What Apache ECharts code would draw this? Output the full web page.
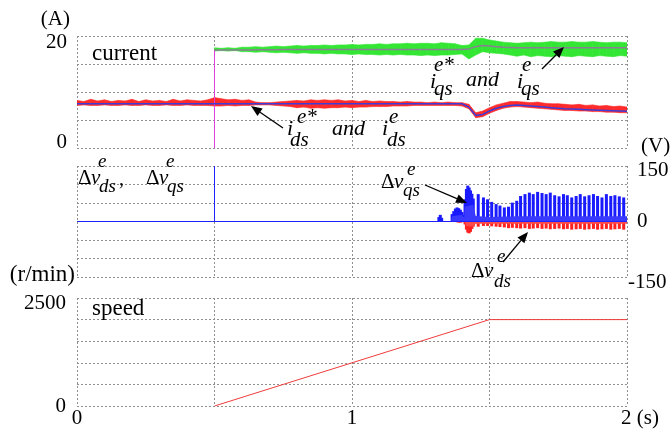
<!DOCTYPE html>
<html><head><meta charset="utf-8">
<script src="https://cdn.jsdelivr.net/npm/echarts/dist/echarts.min.js"></script>
<style>html,body{margin:0;padding:0;background:#fff}#c{width:671px;height:431px}</style>
</head><body><div id="c"></div>
<script>
// ---------- DATA ----------
// time grid for current traces (s)
const tC = [0,0.025,0.05,0.075,0.1,0.125,0.15,0.175,0.2,0.225,0.25,0.275,0.3,0.325,0.35,0.375,0.4,0.425,0.45,0.475,
 0.5,0.525,0.55,0.575,0.6,0.625,0.65,0.675,0.7,0.725,0.75,0.775,0.8,0.825,0.85,0.875,0.9,0.925,0.95,0.975,
 1.0,1.025,1.05,1.075,1.1,1.125,1.15,1.175,1.2,1.225,1.25,1.275,1.3,1.325,1.35,1.375,1.4,1.425,1.45,1.475,
 1.5,1.525,1.55,1.575,1.6,1.625,1.65,1.675,1.7,1.725,1.75,1.775,1.8,1.825,1.85,1.875,1.9,1.925,1.95,1.975,
 2.0];
// d-axis current reference and measured envelope (A)
const idsRef = [7.9,7.9,7.9,7.9,7.9,7.9,7.9,7.9,7.9,7.9,7.9,7.9,7.9,7.9,7.9,7.9,7.9,7.9,7.9,7.9,
 7.9,7.9,7.9,7.9,7.9,7.9,7.9,7.9,7.9,7.9,7.9,7.9,7.9,7.9,7.9,7.9,7.9,7.9,7.9,7.9,
 7.9,7.9,7.9,7.9,7.9,7.9,7.9,7.9,7.9,7.9,7.9,7.9,7.9,7.9,7.9,7.9,7.9,7.3,5.8,6.0,
 6.6,7.1,7.4,7.6,7.7,7.6,7.5,7.4,7.3,7.2,7.1,7.0,6.95,6.9,6.85,6.8,6.75,6.7,6.65,6.6,
 6.55];
const idsHi = [8.5,8.3,8.7,8.4,8.6,8.3,8.5,8.4,8.7,8.3,8.6,8.4,8.5,8.3,8.7,8.4,8.6,8.5,8.4,8.6,
 9.0,8.8,8.6,8.7,8.5,8.6,8.2,8.1,8.1,8.2,8.3,8.4,8.5,8.4,8.6,8.5,8.6,8.5,8.6,8.4,
 8.5,8.3,8.5,8.3,8.4,8.3,8.3,8.2,8.3,8.2,8.2,8.1,8.2,8.1,8.2,8.1,8.1,7.8,6.3,6.6,
 7.2,7.7,8.0,8.3,8.3,8.2,8.1,8.2,8.0,7.9,7.9,7.8,7.7,7.8,7.6,7.7,7.5,7.6,7.4,7.5,
 7.3];
const idsLo = [7.6,7.7,7.6,7.6,7.7,7.6,7.6,7.7,7.6,7.6,7.7,7.6,7.6,7.7,7.6,7.6,7.7,7.6,7.6,7.6,
 7.5,7.5,7.6,7.5,7.6,7.6,7.7,7.7,7.7,7.6,7.5,7.4,7.2,7.3,7.1,7.2,7.1,7.2,7.2,7.3,
 7.2,7.3,7.3,7.4,7.4,7.4,7.5,7.5,7.5,7.6,7.6,7.6,7.6,7.6,7.6,7.6,7.5,7.0,5.4,5.6,
 6.2,6.7,7.1,7.3,7.4,7.3,7.2,7.1,7.0,6.9,6.8,6.7,6.7,6.6,6.6,6.5,6.5,6.4,6.4,6.3,
 6.3];
// q-axis current (starts at 0.5 s) reference and measured envelope (A)
const iqsRef = [17.5,17.5,17.5,17.5,17.5,17.5,17.55,17.55,17.55,17.55,17.6,17.6,17.6,17.6,17.6,17.6,17.6,17.6,17.6,17.6,
 17.6,17.6,17.6,17.6,17.6,17.6,17.6,17.6,17.6,17.6,17.6,17.6,17.6,17.6,17.6,17.6,17.6,17.7,18.1,18.3,
 18.2,18.1,18.0,17.95,17.9,17.9,17.9,17.9,17.9,17.9,17.9,17.9,17.9,17.9,17.9,17.9,17.9,17.9,17.9,17.9,
 17.9];
const iqsHi = [17.9,17.8,17.9,17.8,18.0,18.0,18.1,18.0,18.1,18.2,18.1,18.2,18.3,18.2,18.3,18.3,18.4,18.3,18.4,18.4,
 18.5,18.4,18.5,18.5,18.6,18.5,18.6,18.6,18.7,18.6,18.7,18.7,18.6,18.8,18.7,18.6,18.3,18.4,19.6,19.6,
 19.3,19.1,18.9,18.8,18.7,18.8,18.9,18.8,18.9,19.0,18.9,18.9,19.0,18.9,18.9,19.0,18.9,18.8,18.9,18.9,
 18.8];
const iqsLo = [17.3,17.4,17.3,17.4,17.2,17.2,17.1,17.2,17.1,17.0,17.1,17.0,16.9,17.0,16.9,16.9,16.8,16.9,16.8,16.8,
 16.7,16.8,16.7,16.7,16.6,16.7,16.6,16.7,16.6,16.6,16.5,16.6,16.5,16.6,16.6,16.7,16.8,15.9,16.6,17.2,
 17.0,16.9,16.8,16.6,16.4,16.6,16.3,16.5,16.4,16.3,16.5,16.4,16.3,16.5,16.4,16.3,16.5,16.4,16.3,16.5,
 16.4];
// step of the q-axis command at 0.5 s (A)
const stepT = [0.5, 0.5];
const stepV = [0, 17.5];
// voltage compensation: baseline trace incl. spike at 0.5 s (V)
const vBaseT = [0, 0.5, 0.5, 0.5, 2.0];
const vBaseV = [0, 0, 150, 0, 0];
// voltage oscillation peaks (V)
const vT = [1.316,1.321,1.326,
 1.364,1.370,1.376,1.382,1.388,1.394,1.400,1.405,
 1.411,1.416,1.421,1.426,1.431,1.436,1.441,
 1.459,1.478,1.493,1.508,1.524,1.538,1.554,1.569,1.583,1.599,1.613,1.629,1.645,1.659,1.675,1.691,1.706,1.721,1.737,1.753,1.769,1.783,1.799,1.815,1.830,1.846,1.862,1.878,1.893,1.909,1.925,1.941,1.956,1.972,1.988];
const vqsPk = [12,18,10,
 20,28,35,38,36,32,26,18,
 60,88,97,92,84,75,62,
 74,65,60,53,47,43,38,40,51,56,69,74,78,74,80,77,74,78,71,68,74,71,65,69,74,68,71,74,69,65,74,69,71,68,65];
const vdsPk = [0,0,0,
 0,0,0,-2,-3,-3,-2,0,
 -8,-22,-30,-32,-28,-20,-14,
 -14,-12,-12,-13,-14,-15,-16,-18,-17,-18,-19,-18,-20,-19,-18,-20,-19,-21,-20,-19,-21,-20,-22,-21,-20,-22,-21,-20,-22,-21,-20,-22,-21,-20,-22];
// filled base between oscillation spikes (V)
const vqsFloorT = [1.36,1.364,1.40,1.408,1.41,1.44,1.45,1.5,1.6,2.0];
const vqsFloorV = [0,14,18,10,40,45,15,12,14,14];
const vdsFloorT = [1.41,1.415,1.44,1.45,2.0];
const vdsFloorV = [0,-12,-14,-6,-6];
// speed reference (r/min)
const spdT = [0.5, 1.5, 2.0];
const spdV = [0, 2000, 2000];

// ---------- CHART ----------
const SERIF = '"Liberation Serif","Times New Roman",serif';
const zip = (a, b) => a.map((x, i) => [x, b[i]]);
const tQ = tC.slice(20);

const GRID = '#8f8f8f';
const split = {show: true, showMinLine: true, showMaxLine: true, lineStyle: {color: GRID, type: [2, 2], width: 1}};
const lbl = {fontSize: 21, fontFamily: SERIF, color: '#000'};
const rich = {
  n: {...lbl},
  d6: {...lbl, padding: [12, 0, 0, 0]},
  u6: {...lbl, padding: [0, 0, 12, 0]},
  d4: {...lbl, padding: [8, 0, 0, 0]},
  d5: {...lbl, padding: [10, 0, 0, 0]},
  p: {...lbl, padding: [0, 0, 0, 26]}
};
function xa(i, show) {
  return {type: 'value', gridIndex: i, min: 0, max: 2, interval: 0.5,
    axisLine: {show: false}, axisTick: {show: false}, splitLine: split,
    axisLabel: show ? {show: true, margin: 2, showMinLabel: true, showMaxLabel: true, hideOverlap: false, rich: rich,
      formatter: v => v === 0 ? '{n|0}' : v === 1 ? '{n|1}' : v === 2 ? '{p|2}{n| (s)}' : ''} : {show: false}};
}
const nameStyle = {fontSize: 21, fontFamily: SERIF, color: '#000'};

// band between a lower and an upper envelope, drawn through the axes' scales
function band(xi, yi, T, lo, hi, color) {
  const data = [];
  for (let i = 0; i < T.length - 1; i++) data.push([T[i], lo[i], hi[i], T[i + 1], lo[i + 1], hi[i + 1]]);
  return {type: 'custom', xAxisIndex: xi, yAxisIndex: yi, data: data, clip: true,
    encode: {x: [0, 3], y: [1, 2, 4, 5]},
    renderItem: function (params, api) {
      const pts = [api.coord([api.value(0), api.value(1)]), api.coord([api.value(3), api.value(4)]),
                   api.coord([api.value(3), api.value(5)]), api.coord([api.value(0), api.value(2)])];
      return {type: 'polygon', shape: {points: pts}, style: {fill: color, stroke: color, lineWidth: 0.6}};
    }};
}

const chart = echarts.init(document.getElementById('c'), null, {renderer: 'canvas'});

function T(txt, x, base, fs, it) {
  return {type: 'text', silent: true, z: 100, style: {text: txt, x: x, y: base - 0.34 * fs,
    font: (it ? 'italic ' : '') + fs + 'px ' + SERIF, fill: '#000',
    textAlign: 'left', align: 'left', textVerticalAlign: 'middle', verticalAlign: 'middle'}};
}
function A(x1, y1, x2, y2) {
  const dx = x2 - x1, dy = y2 - y1, L = Math.hypot(dx, dy), ux = dx / L, uy = dy / L, h = 11, w = 4.5;
  const bx = x2 - ux * h, by = y2 - uy * h;
  return [
    {type: 'line', silent: true, z: 100, shape: {x1: x1, y1: y1, x2: bx, y2: by}, style: {stroke: '#000', lineWidth: 1.3}},
    {type: 'polygon', silent: true, z: 100, shape: {points: [[x2, y2], [bx - uy * w, by + ux * w], [bx + uy * w, by - ux * w]]}, style: {fill: '#000'}}
  ];
}
const g = [];
// unit for the voltage axis
g.push(T('(V)', 641, 154, 21, false));
// top panel
g.push(T('current', 92, 62, 23, false));
g.push(T('i', 430, 90, 22, true), T('e*', 434, 73, 21, true), T('qs', 434, 97, 21, true));
g.push(T('and', 466, 88, 22, true));
g.push(T('i', 517, 90, 22, true), T('e', 522, 73, 21, true), T('qs', 521, 97, 21, true));
g.push(...A(542, 69, 564, 47));
g.push(T('i', 287, 137, 22, true), T('e*', 297, 125, 21, true), T('ds', 290, 148, 21, true));
g.push(T('and', 332, 137, 22, true));
g.push(T('i', 382, 137, 22, true), T('e', 389, 125, 21, true), T('ds', 387, 148, 21, true));
g.push(...A(283, 128, 251, 106));
// middle panel
g.push(T('\u0394', 78, 186, 21, false), T('v', 91, 186, 21, true), T('e', 98, 168, 19, true), T('ds', 99, 193, 19, true), T(',', 119, 187, 20, false));
g.push(T('\u0394', 146, 186, 21, false), T('v', 159, 186, 21, true), T('e', 166, 168, 19, true), T('qs', 167, 193, 19, true));
g.push(T('\u0394', 381, 190, 21, false), T('v', 394, 190, 21, true), T('e', 407, 176, 19, true), T('qs', 403, 197, 19, true));
g.push(...A(425, 185, 467, 203));
g.push(T('\u0394', 471, 279, 21, false), T('v', 484, 279, 21, true), T('e', 497, 263, 19, true), T('ds', 494, 288, 19, true));
g.push(...A(503, 262, 528, 232));
// bottom panel
g.push(T('speed', 92, 317, 23, false));

const option = {
  animation: false,
  backgroundColor: '#fff',
  grid: [
    {left: 77, top: 36, width: 550, height: 112, containLabel: false, outerBoundsMode: 'none'},
    {left: 77, top: 166, width: 550, height: 111, containLabel: false, outerBoundsMode: 'none'},
    {left: 77, top: 298, width: 550, height: 108, containLabel: false, outerBoundsMode: 'none'}
  ],
  xAxis: [xa(0, false), xa(1, false), xa(2, true)],
  yAxis: [
    {type: 'value', gridIndex: 0, min: 0, max: 20, interval: 5, position: 'left',
      axisLine: {show: false}, axisTick: {show: false}, splitLine: split,
      axisLabel: {margin: 10, rich: rich, showMinLabel: true, showMaxLabel: true, formatter: v => v === 20 ? '{d6|20}' : v === 0 ? '{u6|0}' : ''},
      name: '(A)', nameLocation: 'end', nameGap: 6, nameTextStyle: {...nameStyle, align: 'right', padding: [0, 7, 0, 0]}},
    {type: 'value', gridIndex: 1, min: -150, max: 150, interval: 50, position: 'right',
      axisLine: {show: false}, axisTick: {show: false}, splitLine: split,
      axisLabel: {margin: 10, rich: rich, showMinLabel: true, showMaxLabel: true, formatter: v => v === 150 ? '{d4|150}' : v === 0 ? '{n|0}' : ''}},
    {type: 'value', gridIndex: 1, min: -150, max: 150, interval: 50, position: 'right',
      axisLine: {show: false}, axisTick: {show: false}, splitLine: {show: false},
      axisLabel: {margin: 1, rich: rich, showMinLabel: true, showMaxLabel: true, formatter: v => v === -150 ? '{d5|-150}' : ''}},
    {type: 'value', gridIndex: 2, min: 0, max: 2500, interval: 500, position: 'left',
      axisLine: {show: false}, axisTick: {show: false}, splitLine: split,
      axisLabel: {margin: 11, rich: rich, showMinLabel: true, showMaxLabel: true, formatter: v => v === 2500 ? '{d5|2500}' : v === 0 ? '{n|0}' : ''},
      name: '(r/min)', nameLocation: 'end', nameGap: 12, nameTextStyle: {...nameStyle, fontSize: 23, align: 'right', padding: [0, 2, 0, 0]}}
  ],
  series: [
    {type: 'line', xAxisIndex: 0, yAxisIndex: 0, data: zip(stepT, stepV), symbol: 'none', lineStyle: {color: '#e040e0', width: 1}},
    band(0, 0, tQ, iqsLo, iqsHi, '#33e633'),
    {type: 'line', xAxisIndex: 0, yAxisIndex: 0, data: zip(tQ, iqsRef), symbol: 'none', lineStyle: {color: '#8a7f95', width: 1.5}},
    band(0, 0, tC, idsLo, idsHi, '#ff2a2a'),
    {type: 'line', xAxisIndex: 0, yAxisIndex: 0, data: zip(tC, idsRef), symbol: 'none', lineStyle: {color: '#3c3cd8', width: 1.5}},

    {type: 'line', xAxisIndex: 1, yAxisIndex: 1, data: zip(vdsFloorT, vdsFloorV), symbol: 'none', lineStyle: {width: 0}, areaStyle: {color: '#ff4a4a', opacity: 1}},
    {type: 'line', xAxisIndex: 1, yAxisIndex: 1, data: zip(vqsFloorT, vqsFloorV), symbol: 'none', lineStyle: {width: 0}, areaStyle: {color: '#3a3aff', opacity: 1}},
    {type: 'bar', xAxisIndex: 1, yAxisIndex: 1, data: zip(vT, vdsPk), barWidth: 3, barGap: '-100%', itemStyle: {color: '#ff2020'}},
    {type: 'bar', xAxisIndex: 1, yAxisIndex: 1, data: zip(vT, vqsPk), barWidth: 3, barGap: '-100%', itemStyle: {color: '#1a1aff'}},
    {type: 'line', xAxisIndex: 1, yAxisIndex: 1, data: zip(vBaseT, vBaseV), symbol: 'none', lineStyle: {color: '#2020ff', width: 1}},

    {type: 'line', xAxisIndex: 2, yAxisIndex: 3, data: zip(spdT, spdV), symbol: 'none', lineStyle: {color: '#f03c3c', width: 1}}
  ],
  graphic: {elements: g}
};
chart.setOption(option);
</script>
</body></html>
